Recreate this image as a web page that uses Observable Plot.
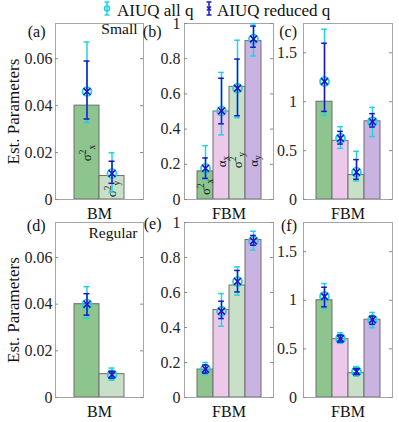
<!DOCTYPE html>
<html><head><meta charset="utf-8">
<script src="https://cdn.jsdelivr.net/npm/d3@7"></script>
<script src="https://cdn.jsdelivr.net/npm/@observablehq/plot@0.6"></script>
<style>
body{margin:0;background:#fff;}
#chart{position:relative;width:399px;height:422px;font-family:"Liberation Serif",serif;}
#chart svg{position:absolute;left:0;top:0;}
#chart svg text{font-family:"Liberation Serif","Times New Roman",serif;}
</style></head><body><div id="chart"></div>
<script>
// ---------- data ----------
const legendLabels = ["AIUQ all q", "AIUQ reduced q"];
const yAxisTitle = "Est. Parameters";
const panelTags = ["(a)", "(b)", "(c)", "(d)", "(e)", "(f)"];
const rowNotes = ["Small", "Regular"];
const groupLabels = ["BM", "FBM", "FBM"];

const bmParams = ["σ^2_x", "σ^2_y"];
const fbmParams = ["σ^2_x", "α_x", "σ^2_y", "α_y"];

const ticksBM = [0, 0.02, 0.04, 0.06];
const tickLabelsBM = ["0", "0.02", "0.04", "0.06"];
const ticksFBM = [0, 0.2, 0.4, 0.6, 0.8, 1];
const tickLabelsFBM = ["0", "0.2", "0.4", "0.6", "0.8", "1"];
const ticksC = [0, 0.5, 1, 1.5];
const tickLabelsC = ["0", "0.5", "1", "1.5"];

// (a) small, BM
const aTruth = [0.04, 0.01];
const aAllEst = [0.046, 0.0111], aAllLo = [0.0328, 0.0031], aAllHi = [0.0671, 0.0199];
const aRedEst = [0.046, 0.0111], aRedLo = [0.0343, 0.0069], aRedHi = [0.059, 0.0163];
const aLabelAt = [0.0163, 0.001];
// (b) small, FBM
const bTruth = [0.16, 0.5, 0.64, 0.9];
const bAllEst = [0.177, 0.503, 0.632, 0.912], bAllLo = [0.118, 0.367, 0.465, 0.815], bAllHi = [0.306, 0.722, 0.905, 0.998];
const bRedEst = [0.177, 0.503, 0.632, 0.912], bRedLo = [0.12, 0.43, 0.476, 0.865], bRedHi = [0.236, 0.689, 0.798, 0.985];
const bLabelAt = [0.025, 0.183, 0.177, 0.186];
// (c) small, FBM
const cTruth = [1, 0.6, 0.25, 0.8];
const cAllEst = [1.207, 0.626, 0.279, 0.796], cAllLo = [0.86, 0.523, 0.19, 0.643], cAllHi = [1.741, 0.745, 0.493, 0.942];
const cRedEst = [1.207, 0.626, 0.279, 0.796], cRedLo = [0.901, 0.567, 0.207, 0.741], cRedHi = [1.598, 0.697, 0.408, 0.878];
// (d) regular, BM
const dTruth = [0.04, 0.01];
const dAllEst = [0.04, 0.0098], dAllLo = [0.034, 0.0074], dAllHi = [0.0475, 0.0126];
const dRedEst = [0.04, 0.0098], dRedLo = [0.0353, 0.0083], dRedHi = [0.0445, 0.0112];
// (e) regular, FBM
const eTruth = [0.16, 0.5, 0.64, 0.9];
const eAllEst = [0.162, 0.493, 0.663, 0.895], eAllLo = [0.131, 0.407, 0.585, 0.842], eAllHi = [0.2, 0.594, 0.746, 0.95];
const eRedEst = [0.162, 0.493, 0.663, 0.895], eRedLo = [0.139, 0.451, 0.603, 0.87], eRedHi = [0.186, 0.55, 0.726, 0.926];
// (f) regular, FBM
const fTruth = [1, 0.6, 0.25, 0.8];
const fAllEst = [1.039, 0.605, 0.267, 0.8], fAllLo = [0.916, 0.557, 0.222, 0.718], fAllHi = [1.172, 0.667, 0.318, 0.875];
const fRedEst = [1.039, 0.605, 0.267, 0.8], fRedLo = [0.933, 0.57, 0.236, 0.752], fRedHi = [1.134, 0.642, 0.297, 0.837];

// ---------- styles ----------
const FONT = "Liberation Serif";
const cyan = "#20d4dc", blue = "#1818cc";
const paramColors = {domain: fbmParams, range: ["#8ec48e", "#ecc9ea", "#c7e0c7", "#c9b3e3"]};
const W = 399, H = 422;

function rowsOf(params, truth, allEst, allLo, allHi, redEst, redLo, redHi, labelAt) {
  return params.map((p, i) => ({param: p, truth: truth[i], allEst: allEst[i], allLo: allLo[i], allHi: allHi[i],
    redEst: redEst[i], redLo: redLo[i], redHi: redHi[i], labelAt: labelAt ? labelAt[i] : null}));
}

function panel(cfg) {
  const {rows, params, yMax, ticks, tickLabels, frame, tag, tagDx, tagDy, note, noteDy, group, yLabel, pad, outer} = cfg;
  const [x0, x1, y0, y1] = frame;
  const fw = x1 - x0;
  const bw = fw / (params.length + 2 * outer);
  const capInset = (bw - 6) / 2;
  const marks = [
    Plot.barY(rows, {x: "param", y: "truth", fill: "param", stroke: "#6e6e6e", strokeWidth: 1}),
    Plot.frame({stroke: "#a6a6a6"}),
    Plot.tickY(ticks, {y: d => d, insetRight: fw - 3, stroke: "#8a8a8a"}),
    Plot.tickY(ticks, {y: d => d, insetLeft: fw - 3, stroke: "#8a8a8a"}),
    Plot.text(ticks, {y: d => d, text: (d, i) => tickLabels[i], frameAnchor: "left", textAnchor: "end",
      dx: -pad, lineAnchor: "middle", fontSize: 16, fontFamily: FONT, fill: "#262626"}),
  ];
  if (cfg.annotate) {
    marks.push(Plot.text(rows, {x: "param", y: "labelAt", text: "param", rotate: -90, textAnchor: "start",
      lineAnchor: "middle", fontSize: 13, fontFamily: FONT, fill: "#111"}));
  }
  marks.push(
    Plot.ruleX(rows, {x: "param", y1: "allLo", y2: "allHi", stroke: cyan, strokeWidth: 1.5}),
    Plot.tickY(rows, {x: "param", y: "allLo", stroke: cyan, strokeWidth: 1.5, insetLeft: capInset, insetRight: capInset}),
    Plot.tickY(rows, {x: "param", y: "allHi", stroke: cyan, strokeWidth: 1.5, insetLeft: capInset, insetRight: capInset}),
    Plot.dot(rows, {x: "param", y: "allEst", r: 4.5, stroke: cyan, strokeWidth: 1.8, fill: "none"}),
    Plot.ruleX(rows, {x: "param", y1: "redLo", y2: "redHi", stroke: blue, strokeWidth: 1.5}),
    Plot.tickY(rows, {x: "param", y: "redLo", stroke: blue, strokeWidth: 1.5, insetLeft: capInset, insetRight: capInset}),
    Plot.tickY(rows, {x: "param", y: "redHi", stroke: blue, strokeWidth: 1.5, insetLeft: capInset, insetRight: capInset}),
    Plot.dot(rows, {x: "param", y: "redEst", symbol: "times", r: 3.2, stroke: blue, strokeWidth: 1.6}),
    Plot.text([tag], {text: d => d, frameAnchor: "top-left", textAnchor: "end", lineAnchor: "middle",
      dx: tagDx, dy: tagDy, fontSize: 16, fontFamily: FONT, fill: "#111"}),
    Plot.text([group], {text: d => d, frameAnchor: "bottom", lineAnchor: "middle", dy: 14, fontSize: 16,
      fontFamily: FONT, fill: "#111"})
  );
  if (note) marks.push(Plot.text([note], {text: d => d, frameAnchor: "top-right", textAnchor: "end", lineAnchor: "top",
    dx: -6, dy: noteDy, fontSize: 15.5, fontFamily: FONT, fill: "#111"}));
  if (yLabel) marks.push(Plot.text([yLabel], {text: d => d, frameAnchor: "left", rotate: -90, textAnchor: "middle",
    lineAnchor: "middle", dx: -41.5, fontSize: 17, fontFamily: FONT, fill: "#111"}));
  return Plot.plot({
    width: W, height: H,
    marginLeft: x0, marginRight: W - x1, marginTop: y0, marginBottom: H - y1,
    style: {background: "transparent", overflow: "visible"},
    x: {domain: params, paddingInner: 0, paddingOuter: outer, axis: null},
    y: {domain: [0, yMax], axis: null},
    color: paramColors,
    marks
  });
}

const rowTop = [23, 199], rowBot = [222, 397];
const colA = [55, 143], colB = [184, 273], colC = [303, 392];

const panels = [
  {rows: rowsOf(bmParams, aTruth, aAllEst, aAllLo, aAllHi, aRedEst, aRedLo, aRedHi, aLabelAt), params: bmParams,
   yMax: 0.075, ticks: ticksBM, tickLabels: tickLabelsBM, frame: [...colA, ...rowTop], tag: panelTags[0], tagDx: -10, tagDy: 8.5,
   note: rowNotes[0], noteDy: -0.5, group: groupLabels[0], yLabel: yAxisTitle, pad: 3, outer: 0.76, annotate: true},
  {rows: rowsOf(fbmParams, bTruth, bAllEst, bAllLo, bAllHi, bRedEst, bRedLo, bRedHi, bLabelAt), params: fbmParams,
   yMax: 1, ticks: ticksFBM, tickLabels: tickLabelsFBM, frame: [...colB, ...rowTop], tag: panelTags[1], tagDx: -23, tagDy: 8.5,
   group: groupLabels[1], pad: 4, outer: 0.73, annotate: true},
  {rows: rowsOf(fbmParams, cTruth, cAllEst, cAllLo, cAllHi, cRedEst, cRedLo, cRedHi), params: fbmParams,
   yMax: 1.8, ticks: ticksC, tickLabels: tickLabelsC, frame: [...colC, ...rowTop], tag: panelTags[2], tagDx: -6.5, tagDy: 8.5,
   group: groupLabels[2], pad: 6.5, outer: 0.73},
  {rows: rowsOf(bmParams, dTruth, dAllEst, dAllLo, dAllHi, dRedEst, dRedLo, dRedHi), params: bmParams,
   yMax: 0.075, ticks: ticksBM, tickLabels: tickLabelsBM, frame: [...colA, ...rowBot], tag: panelTags[3], tagDx: -10, tagDy: 3,
   note: rowNotes[1], noteDy: 4.7, group: groupLabels[0], yLabel: yAxisTitle, pad: 3, outer: 0.76},
  {rows: rowsOf(fbmParams, eTruth, eAllEst, eAllLo, eAllHi, eRedEst, eRedLo, eRedHi), params: fbmParams,
   yMax: 1, ticks: ticksFBM, tickLabels: tickLabelsFBM, frame: [...colB, ...rowBot], tag: panelTags[4], tagDx: -23, tagDy: 1.5,
   group: groupLabels[1], pad: 4, outer: 0.73},
  {rows: rowsOf(fbmParams, fTruth, fAllEst, fAllLo, fAllHi, fRedEst, fRedLo, fRedHi), params: fbmParams,
   yMax: 1.8, ticks: ticksC, tickLabels: tickLabelsC, frame: [...colC, ...rowBot], tag: panelTags[5], tagDx: -6.5, tagDy: 3,
   group: groupLabels[2], pad: 6.5, outer: 0.73},
];

const chart = document.getElementById("chart");
for (const p of panels) {
  const svg = panel(p);
  // render "σ^2_x" style labels with real super/subscripts
  d3.select(svg).selectAll("text").each(function () {
    const t = this.textContent;
    if (!/[\^_]/.test(t)) return;
    const fs = 13;
    const sel = d3.select(this);
    sel.text(null);
    let i = 0, shift = 0;
    while (i < t.length) {
      const ch = t[i];
      if ((ch === "^" || ch === "_") && i + 1 < t.length) {
        const target = ch === "^" ? -0.42 * fs : 0.28 * fs;
        sel.append("tspan").attr("dy", target - shift).attr("font-size", fs * 0.72).text(t[i + 1]);
        shift = target; i += 2;
      } else {
        sel.append("tspan").attr("dy", -shift).text(ch);
        shift = 0; i += 1;
      }
    }
  });
  chart.appendChild(svg);
}

// legend
const lg = d3.select(chart).append("svg").attr("width", W).attr("height", 22);
const items = [{x: 107, tx: 117, color: cyan, sym: "circle"}, {x: 209, tx: 217, color: blue, sym: "times"}];
items.forEach((it, k) => {
  const g = lg.append("g").attr("stroke", it.color).attr("stroke-width", 1.5).attr("fill", "none");
  g.append("line").attr("x1", it.x).attr("x2", it.x).attr("y1", 2).attr("y2", 15);
  g.append("line").attr("x1", it.x - 2.5).attr("x2", it.x + 2.5).attr("y1", 2).attr("y2", 2);
  g.append("line").attr("x1", it.x - 2.5).attr("x2", it.x + 2.5).attr("y1", 15).attr("y2", 15);
  if (it.sym === "circle") g.append("circle").attr("cx", it.x).attr("cy", 8.5).attr("r", 2.5);
  else g.append("path").attr("d", `M${it.x - 2},6.5L${it.x + 2},10.5M${it.x - 2},10.5L${it.x + 2},6.5`);
  lg.append("text").attr("x", it.tx).attr("y", 16).attr("font-size", 17)
    .attr("fill", "#111").text(legendLabels[k]);
});
</script></body></html>
